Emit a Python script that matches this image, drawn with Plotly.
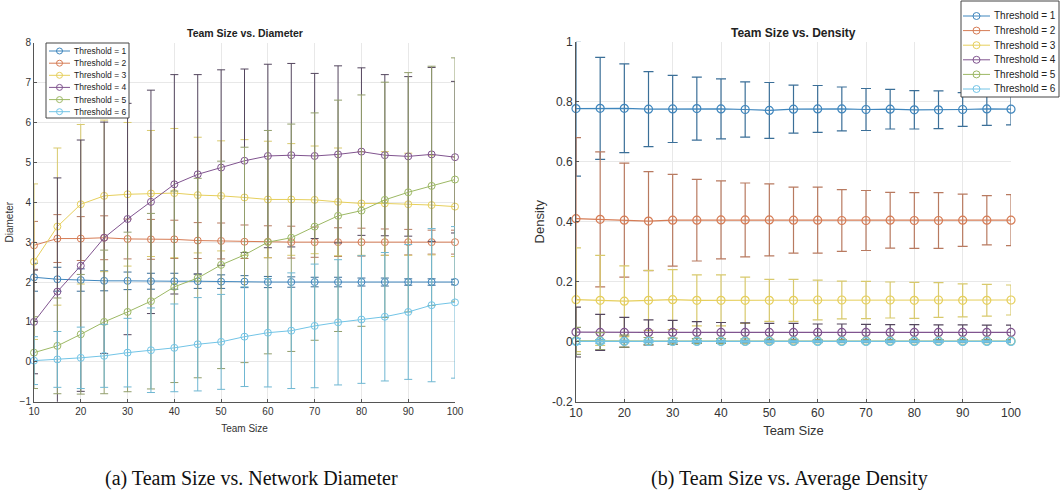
import plotly.graph_objects as go

W, H = 1063, 490

team_size = [10, 15, 20, 25, 30, 35, 40, 45, 50, 55, 60, 65, 70, 75, 80, 85, 90, 95, 100]
names = ["Threshold = 1", "Threshold = 2", "Threshold = 3", "Threshold = 4", "Threshold = 5", "Threshold = 6"]
colors = ["#3f86bd", "#d67c55", "#e6cf5c", "#80548f", "#9cb864", "#72c4e6"]
err_colors = ["#3b6f98", "#b87a60", "#d8c96c", "#54465e", "#929e6c", "#6fb7d2"]

# Diameter means
diam_t1 = [2.12, 2.07, 2.05, 2.03, 2.03, 2.02, 2.02, 2.02, 2.01, 2.01, 2.0, 2.0, 2.0, 2.0, 2.0, 2.0, 2.0, 2.0, 2.0]
diam_t2 = [2.92, 3.09, 3.09, 3.11, 3.08, 3.07, 3.07, 3.04, 3.03, 3.01, 3.01, 3.0, 3.0, 3.0, 3.0, 3.0, 3.0, 3.0, 3.0]
diam_t3 = [2.51, 3.39, 3.95, 4.16, 4.2, 4.22, 4.23, 4.18, 4.16, 4.12, 4.07, 4.07, 4.06, 4.01, 3.97, 3.97, 3.95, 3.93, 3.89]
diam_t4 = [1.0, 1.76, 2.41, 3.11, 3.58, 4.01, 4.45, 4.7, 4.87, 5.04, 5.16, 5.18, 5.16, 5.2, 5.27, 5.18, 5.15, 5.2, 5.13]
diam_t5 = [0.23, 0.4, 0.69, 1.0, 1.25, 1.52, 1.88, 2.1, 2.43, 2.68, 3.0, 3.11, 3.39, 3.66, 3.79, 4.06, 4.25, 4.41, 4.57]
diam_t6 = [0.03, 0.06, 0.1, 0.15, 0.23, 0.29, 0.35, 0.44, 0.5, 0.63, 0.73, 0.78, 0.9, 0.99, 1.06, 1.13, 1.25, 1.42, 1.49]

# Diameter standard deviations
diam_s1 = [0.35, 0.3, 0.28, 0.25, 0.22, 0.2, 0.2, 0.18, 0.17, 0.15, 0.14, 0.13, 0.12, 0.12, 0.1, 0.1, 0.08, 0.08, 0.07]
diam_s2 = [0.6, 0.6, 0.55, 0.55, 0.5, 0.5, 0.48, 0.45, 0.45, 0.42, 0.4, 0.4, 0.38, 0.36, 0.35, 0.33, 0.32, 0.3, 0.3]
diam_s3 = [1.95, 1.97, 2.0, 1.9, 1.8, 1.58, 1.62, 1.45, 1.38, 1.45, 1.46, 1.4, 1.35, 1.35, 1.3, 1.3, 1.28, 1.25, 1.25]
diam_s4 = [1.3, 2.85, 3.15, 2.9, 2.9, 2.8, 2.75, 2.5, 2.45, 2.3, 2.3, 2.3, 2.07, 2.22, 2.1, 2.02, 2.0, 2.18, 1.9]
diam_s5 = [0.9, 1.2, 1.5, 1.8, 2.0, 2.2, 2.4, 2.5, 2.6, 2.7, 2.8, 2.85, 2.85, 2.9, 2.9, 2.95, 3.0, 3.0, 3.05]
diam_s6 = [0.6, 0.7, 0.77, 0.79, 0.86, 1.06, 1.1, 1.17, 1.19, 1.25, 1.36, 1.45, 1.55, 1.57, 1.6, 1.61, 1.69, 1.92, 1.9]

# Density means
dens_t1 = [0.777, 0.778, 0.778, 0.775, 0.776, 0.777, 0.776, 0.774, 0.771, 0.775, 0.776, 0.776, 0.774, 0.775, 0.773, 0.773, 0.774, 0.776, 0.775]
dens_t2 = [0.41, 0.408, 0.405, 0.402, 0.405, 0.405, 0.406, 0.406, 0.406, 0.405, 0.405, 0.404, 0.404, 0.405, 0.404, 0.404, 0.405, 0.405, 0.405]
dens_t3 = [0.14, 0.138, 0.135, 0.138, 0.14, 0.138, 0.138, 0.138, 0.138, 0.138, 0.139, 0.139, 0.139, 0.139, 0.138, 0.139, 0.138, 0.138, 0.139]
dens_t4 = [0.032, 0.031, 0.031, 0.031, 0.031, 0.031, 0.031, 0.031, 0.031, 0.031, 0.031, 0.031, 0.031, 0.031, 0.031, 0.031, 0.031, 0.031, 0.031]
dens_t5 = [0.003, 0.002, 0.002, 0.002, 0.002, 0.002, 0.002, 0.002, 0.002, 0.002, 0.002, 0.002, 0.002, 0.002, 0.002, 0.002, 0.002, 0.002, 0.002]
dens_t6 = [0.001, 0.001, 0.001, 0.001, 0.001, 0.001, 0.001, 0.001, 0.001, 0.001, 0.001, 0.001, 0.001, 0.001, 0.001, 0.001, 0.001, 0.001, 0.001]

# Density standard deviations
dens_s1 = [0.225, 0.17, 0.148, 0.125, 0.112, 0.105, 0.1, 0.092, 0.093, 0.08, 0.078, 0.073, 0.07, 0.066, 0.064, 0.063, 0.056, 0.055, 0.052]
dens_s2 = [0.27, 0.225, 0.19, 0.165, 0.153, 0.136, 0.13, 0.123, 0.12, 0.11, 0.11, 0.103, 0.1, 0.093, 0.093, 0.093, 0.087, 0.082, 0.085]
dens_s3 = [0.173, 0.15, 0.118, 0.1, 0.1, 0.085, 0.085, 0.077, 0.07, 0.07, 0.066, 0.063, 0.062, 0.06, 0.06, 0.058, 0.055, 0.053, 0.05]
dens_s4 = [0.083, 0.06, 0.05, 0.042, 0.04, 0.036, 0.033, 0.032, 0.03, 0.03, 0.028, 0.028, 0.027, 0.026, 0.026, 0.025, 0.025, 0.024, 0.024]
dens_s5 = [0.045, 0.028, 0.02, 0.012, 0.01, 0.008, 0.008, 0.007, 0.006, 0.006, 0.005, 0.005, 0.005, 0.005, 0.005, 0.005, 0.005, 0.005, 0.005]
dens_s6 = [0.01, 0.006, 0.004, 0.004, 0.003, 0.003, 0.003, 0.003, 0.003, 0.003, 0.003, 0.003, 0.003, 0.003, 0.003, 0.003, 0.003, 0.003, 0.003]

x_ticks = [10, 20, 30, 40, 50, 60, 70, 80, 90, 100]
diam_ticks = [-1, 0, 1, 2, 3, 4, 5, 6, 7, 8]
dens_ticks = [-0.2, 0, 0.2, 0.4, 0.6, 0.8, 1]
dens_tick_text = ["-0.2", "0", "0.2", "0.4", "0.6", "0.8", "1"]

diam_means = [diam_t1, diam_t2, diam_t3, diam_t4, diam_t5, diam_t6]
diam_stds = [diam_s1, diam_s2, diam_s3, diam_s4, diam_s5, diam_s6]
dens_means = [dens_t1, dens_t2, dens_t3, dens_t4, dens_t5, dens_t6]
dens_stds = [dens_s1, dens_s2, dens_s3, dens_s4, dens_s5, dens_s6]

FONT = "Liberation Sans, Arial, sans-serif"
TXT = "#333333"

fig = go.Figure()

for i in range(6):
    fig.add_trace(go.Scatter(
        x=team_size, y=diam_means[i], name=names[i], mode="lines+markers",
        line=dict(color=colors[i], width=1),
        marker=dict(symbol="circle-open", size=7, color=colors[i], line=dict(width=1, color=colors[i])),
        error_y=dict(type="data", array=diam_stds[i], visible=True, color=err_colors[i], thickness=1, width=4),
        cliponaxis=False, showlegend=False, xaxis="x", yaxis="y"))

for i in range(6):
    fig.add_trace(go.Scatter(
        x=team_size, y=dens_means[i], name=names[i], mode="lines+markers",
        line=dict(color=colors[i], width=1.2),
        marker=dict(symbol="circle-open", size=8, color=colors[i], line=dict(width=1.2, color=colors[i])),
        error_y=dict(type="data", array=dens_stds[i], visible=True, color=err_colors[i], thickness=1.2, width=5),
        cliponaxis=False, showlegend=False, xaxis="x2", yaxis="y2"))


def px(x):
    return x / W


def py(y):
    return 1 - y / H


axis_common = dict(showgrid=True, gridcolor="#e8e8e8", gridwidth=1, zeroline=False,
                   showline=True, linecolor="#555555", linewidth=1, ticks="inside",
                   tickcolor="#555555", ticklen=3, mirror=False, automargin=False)

fig.update_layout(
    width=W, height=H, autosize=False,
    margin=dict(l=0, r=0, t=0, b=0, pad=0),
    paper_bgcolor="white", plot_bgcolor="white",
    showlegend=False,
    xaxis=dict(domain=[px(34), px(455)], range=[10, 100], tickvals=x_ticks,
               tickfont=dict(family=FONT, size=10, color=TXT),
               title=dict(text="Team Size", font=dict(family=FONT, size=10, color=TXT), standoff=9),
               anchor="y", **axis_common),
    yaxis=dict(domain=[py(401.7), py(42.7)], range=[-1, 8], tickvals=diam_ticks,
               tickfont=dict(family=FONT, size=10, color=TXT),
               title=dict(text="Diameter", font=dict(family=FONT, size=10, color=TXT), standoff=4),
               anchor="x", **axis_common),
    xaxis2=dict(domain=[px(576), px(1011)], range=[10, 100], tickvals=x_ticks,
                tickfont=dict(family=FONT, size=12, color=TXT),
                title=dict(text="Team Size", font=dict(family=FONT, size=13, color=TXT), standoff=6),
                anchor="y2", **axis_common),
    yaxis2=dict(domain=[py(401.7), py(41.7)], range=[-0.2, 1], tickvals=dens_ticks, ticktext=dens_tick_text,
                tickfont=dict(family=FONT, size=12, color=TXT),
                title=dict(text="Density", font=dict(family=FONT, size=13, color=TXT), standoff=4),
                anchor="x2", **axis_common),
)

annotations = [
    dict(text="<b>Team Size vs. Diameter</b>", x=px(244.5), y=py(33), xref="paper", yref="paper",
         showarrow=False, font=dict(family=FONT, size=10.5, color="#222222"), xanchor="center", yanchor="middle"),
    dict(text="<b>Team Size vs. Density</b>", x=px(793.5), y=py(33), xref="paper", yref="paper",
         showarrow=False, font=dict(family=FONT, size=12, color="#222222"), xanchor="center", yanchor="middle"),
    dict(text="(a) Team Size vs. Network Diameter", x=px(251), y=py(478), xref="paper", yref="paper",
         showarrow=False, font=dict(family="Liberation Serif, Times New Roman, serif", size=20, color="#111111"),
         xanchor="center", yanchor="middle"),
    dict(text="(b) Team Size vs. Average Density", x=px(789), y=py(478), xref="paper", yref="paper",
         showarrow=False, font=dict(family="Liberation Serif, Times New Roman, serif", size=20, color="#111111"),
         xanchor="center", yanchor="middle"),
]
shapes = []


def add_legend(box, rows, line_x, text_x, fsize, msize):
    x0, y0, x1, y1 = box
    shapes.append(dict(type="rect", xref="paper", yref="paper", x0=px(x0), x1=px(x1), y0=py(y1), y1=py(y0),
                       line=dict(color="#444444", width=1), fillcolor="white", layer="above"))
    for i, ry in enumerate(rows):
        shapes.append(dict(type="line", xref="paper", yref="paper", x0=px(line_x[0]), x1=px(line_x[1]),
                           y0=py(ry), y1=py(ry), line=dict(color=colors[i], width=1), layer="above"))
        cx = (line_x[0] + line_x[1]) / 2
        shapes.append(dict(type="circle", xref="paper", yref="paper", xsizemode="pixel", ysizemode="pixel",
                           xanchor=px(cx), yanchor=py(ry), x0=-msize / 2, x1=msize / 2, y0=-msize / 2, y1=msize / 2,
                           line=dict(color=colors[i], width=1), fillcolor="rgba(0,0,0,0)", layer="above"))
        annotations.append(dict(text=names[i], x=px(text_x), y=py(ry), xref="paper", yref="paper",
                                showarrow=False, xanchor="left", yanchor="middle",
                                font=dict(family=FONT, size=fsize, color="#222222")))


add_legend((46, 43, 129, 118), [51, 63.2, 75.3, 87.4, 99.6, 111.7], (49, 70), 72, 8.5, 6)
add_legend((961, 1, 1059, 97), [16, 30.6, 45.2, 59.8, 74.4, 89], (963, 990), 992, 10, 7)

fig.update_layout(annotations=annotations, shapes=shapes)

fig.write_html("out.html", config={"displayModeBar": False},
               post_script="document.body.style.margin='0px';document.body.style.overflow='hidden';")
